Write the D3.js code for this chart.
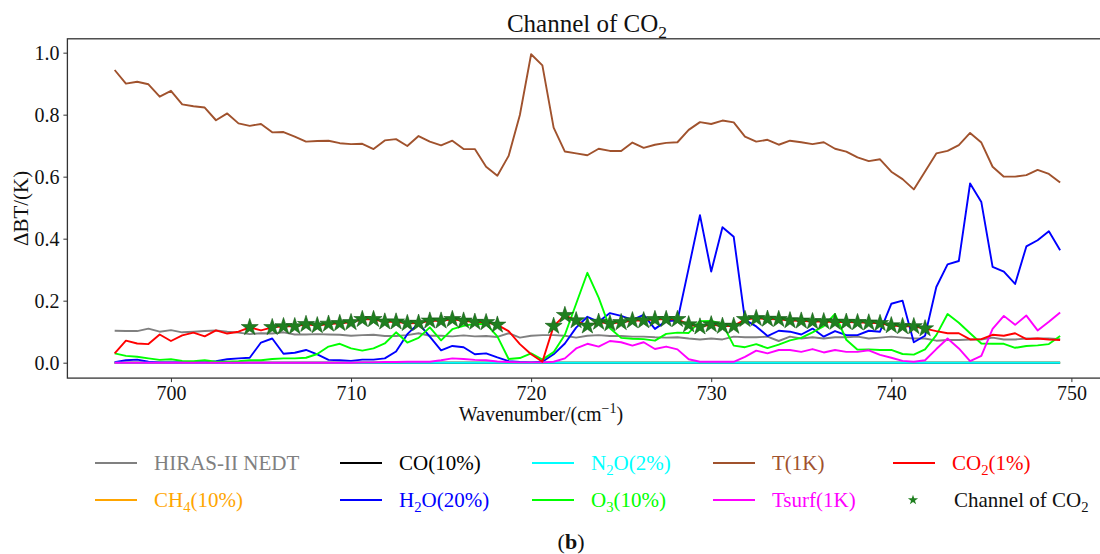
<!DOCTYPE html>
<html>
<head>
<meta charset="utf-8">
<script src="https://cdn.jsdelivr.net/npm/d3@7"></script>
<style>
  body { margin: 0; background: #fff; }
  svg text { font-family: "Liberation Serif", "Times New Roman", serif; }
</style>
</head>
<body>
<svg id="chart" width="1100" height="554"></svg>
<script>
// HIRAS-II channel grid: 696.875 .. 749.375 cm-1, 0.625 cm-1 spacing
const CH_START = 696.875
const CH_STEP = 0.625
const N_CH = 85
const wavenumber = d3.range(N_CH).map((i) => CH_START + CH_STEP * i)

const nedt = [0.103,0.102,0.102,0.110,0.100,0.105,0.098,0.100,0.102,0.104,0.100,0.097,0.092,0.095,0.094,0.098,0.091,0.091,0.092,0.091,0.090,0.087,0.089,0.090,0.086,0.086,0.089,0.095,0.087,0.087,0.085,0.088,0.085,0.086,0.083,0.095,0.081,0.087,0.089,0.089,0.087,0.081,0.087,0.089,0.086,0.086,0.084,0.084,0.082,0.081,0.082,0.078,0.075,0.078,0.075,0.084,0.082,0.082,0.084,0.070,0.084,0.078,0.082,0.078,0.082,0.082,0.084,0.078,0.081,0.084,0.081,0.078,0.078,0.071,0.073,0.073,0.075,0.075,0.081,0.075,0.075,0.078,0.078,0.078,0.076]

const ch4 = [0,0,0,0,0,0,0,0,0,0,0,0,0,0,0,0,0,0,0,0,0,0,0,0,0,0,0,0,0,0,0,0,0,0,0,0,0,0,0,0,0,0,0,0,0,0,0,0,0,0,0,0,0,0,0,0,0,0,0,0,0,0,0,0,0,0,0,0,0,0,0,0,0,0,0,0,0,0,0,0,0,0,0,0,0]

const co = [0,0,0,0,0,0,0,0,0,0,0,0,0,0,0,0,0,0,0,0,0,0,0,0,0,0,0,0,0,0,0,0,0,0,0,0,0,0,0,0,0,0,0,0,0,0,0,0,0,0,0,0,0,0,0,0,0,0,0,0,0,0,0,0,0,0,0,0,0,0,0,0,0,0,0,0,0,0,0,0,0,0,0,0,0]

const h2o = [0.002,0.008,0.010,0.003,0.001,0.001,0.001,0.002,0.001,0.005,0.011,0.014,0.016,0.065,0.078,0.029,0.032,0.041,0.027,0.009,0.008,0.006,0.010,0.010,0.014,0.036,0.092,0.127,0.084,0.040,0.054,0.050,0.027,0.030,0.017,0.005,0.002,0.001,0.003,0.027,0.062,0.113,0.148,0.132,0.160,0.151,0.138,0.154,0.109,0.134,0.136,0.305,0.476,0.294,0.437,0.406,0.138,0.117,0.086,0.103,0.100,0.091,0.110,0.084,0.102,0.089,0.089,0.103,0.100,0.190,0.200,0.066,0.087,0.244,0.317,0.328,0.578,0.518,0.309,0.294,0.254,0.375,0.395,0.424,0.363]

const n2o = [0,0,0,0,0,0,0,0,0,0,0,0,0,0,0,0,0,0,0,0,0,0,0,0,0,0,0,0,0,0,0,0,0,0,0,0,0,0,0,0,0,0,0,0,0,0,0,0,0,0,0,0,0,0,0,0,0,0,0,0,0,0,0,0,0,0,0,0,0,0,0,0,0,0,0,0,0,0,0,0,0,0,0,0,0]

const o3 = [0.030,0.022,0.019,0.014,0.009,0.011,0.006,0.005,0.008,0.003,0.003,0.005,0.008,0.008,0.012,0.014,0.014,0.016,0.028,0.052,0.061,0.046,0.039,0.046,0.062,0.098,0.065,0.080,0.114,0.072,0.108,0.119,0.125,0.125,0.085,0.012,0.015,0.030,0.010,0.034,0.090,0.190,0.290,0.210,0.111,0.080,0.077,0.076,0.071,0.093,0.097,0.096,0.134,0.135,0.125,0.055,0.050,0.060,0.047,0.058,0.072,0.080,0.098,0.118,0.157,0.074,0.042,0.043,0.041,0.041,0.028,0.026,0.043,0.089,0.157,0.129,0.095,0.062,0.061,0.061,0.048,0.054,0.056,0.060,0.086]

const temp = [0.944,0.900,0.906,0.898,0.858,0.877,0.833,0.827,0.823,0.782,0.804,0.772,0.764,0.770,0.743,0.744,0.729,0.713,0.715,0.716,0.708,0.705,0.706,0.689,0.717,0.721,0.699,0.731,0.713,0.701,0.716,0.689,0.689,0.632,0.603,0.667,0.799,0.995,0.959,0.758,0.681,0.675,0.669,0.690,0.683,0.683,0.710,0.693,0.703,0.709,0.711,0.751,0.776,0.770,0.781,0.775,0.729,0.713,0.719,0.703,0.716,0.711,0.705,0.711,0.690,0.681,0.662,0.650,0.656,0.616,0.592,0.559,0.617,0.675,0.683,0.702,0.741,0.710,0.632,0.600,0.600,0.605,0.622,0.609,0.581]

const tsurf = [0,0,0,0,0,0,0,0,0,0,0,0,0,0,0,0,0,0,0,0,0,0,0.001,0.001,0.002,0.002,0.003,0.003,0.003,0.008,0.014,0.012,0.009,0.008,0.004,0.002,0.001,0.001,0.001,0.003,0.014,0.046,0.061,0.052,0.070,0.066,0.055,0.066,0.044,0.052,0.043,0.011,0.003,0.003,0.003,0.003,0.019,0.039,0.030,0.041,0.041,0.035,0.044,0.033,0.041,0.035,0.035,0.040,0.025,0.016,0.006,0.003,0.008,0.044,0.078,0.046,0.005,0.022,0.109,0.151,0.122,0.152,0.104,0.132,0.162]

const co2 = [0.030,0.071,0.062,0.060,0.091,0.070,0.088,0.097,0.085,0.104,0.094,0.100,0.114,0.104,0.114,0.117,0.117,0.124,0.120,0.125,0.127,0.130,0.140,0.140,0.132,0.132,0.127,0.128,0.135,0.135,0.140,0.135,0.131,0.130,0.122,0.102,0.060,0.027,0.003,0.118,0.153,0.136,0.119,0.131,0.126,0.130,0.136,0.136,0.140,0.140,0.140,0.123,0.116,0.123,0.118,0.118,0.140,0.143,0.141,0.140,0.136,0.135,0.133,0.133,0.131,0.131,0.130,0.129,0.127,0.120,0.117,0.117,0.110,0.102,0.095,0.095,0.075,0.076,0.090,0.087,0.095,0.076,0.078,0.075,0.073]

// channel indices selected as CO2 channels (stars)
const starChannels = [12,14,15,16,17,18,19,20,21,22,23,24,25,26,27,28,29,30,31,32,33,34,
  39,40,41,42,43,44,45,46,47,48,49,50,51,52,53,54,55,56,57,58,59,60,61,62,63,64,65,66,67,68,69,70,71,72]

const xTicks = [700, 710, 720, 730, 740, 750]
const yTicks = [0.0, 0.2, 0.4, 0.6, 0.8, 1.0]

// plotting order (as in the original script)
const SERIES = [
  { key: "nedt", values: nedt, color: "#808080", label: [["HIRAS-II NEDT"]] },
  { key: "ch4", values: ch4, color: "#ffa500", label: [["CH"], ["4", "sub"], ["(10%)"]] },
  { key: "co", values: co, color: "#000000", label: [["CO(10%)"]] },
  { key: "h2o", values: h2o, color: "#0000ff", label: [["H"], ["2", "sub"], ["O(20%)"]] },
  { key: "n2o", values: n2o, color: "#00ffff", label: [["N"], ["2", "sub"], ["O(2%)"]] },
  { key: "o3", values: o3, color: "#00ff00", label: [["O"], ["3", "sub"], ["(10%)"]] },
  { key: "temp", values: temp, color: "#a0522d", label: [["T(1K)"]] },
  { key: "tsurf", values: tsurf, color: "#ff00ff", label: [["Tsurf(1K)"]] },
  { key: "co2", values: co2, color: "#ff0000", label: [["CO"], ["2", "sub"], ["(1%)"]] },
]

const legendRows = [
  ["nedt", "co", "n2o", "temp", "co2"],
  ["ch4", "h2o", "o3", "tsurf", "star"],
]

const STAR_COLOR = "#1f7f1f"
const FONT = "Liberation Serif, Times New Roman, serif"
const svg = d3.select("#chart")

const margin = { left: 67.4, top: 38.8 }
const plotW = 1040
const plotH = 339.3

const x = d3.scaleLinear().domain([694.25, 752.0]).range([margin.left, margin.left + plotW])
const y = d3.scaleLinear().domain([-0.0497, 1.0447]).range([margin.top + plotH, margin.top])

// rich text helper: parts = [[text, "sub"|"sup"|undefined], ...]
function richText(sel, parts, size) {
  let shift = 0
  parts.forEach(([t, kind]) => {
    const ts = sel.append("tspan").text(t)
    if (kind === "sub") {
      ts.attr("dy", size * 0.25 - shift).attr("font-size", size * 0.7)
      shift = size * 0.25
    } else if (kind === "sup") {
      ts.attr("dy", -size * 0.4 - shift).attr("font-size", size * 0.7)
      shift = -size * 0.4
    } else {
      ts.attr("dy", -shift)
      shift = 0
    }
  })
}

// clip for data
svg.append("clipPath").attr("id", "clip")
  .append("rect")
  .attr("x", margin.left).attr("y", margin.top)
  .attr("width", plotW).attr("height", plotH)

// axes
const xAxis = svg.append("g")
  .attr("transform", `translate(0,${margin.top + plotH})`)
  .call(d3.axisBottom(x).tickValues(xTicks).tickFormat(d3.format("d")).tickSize(4).tickPadding(4))
const yAxis = svg.append("g")
  .attr("transform", `translate(${margin.left},0)`)
  .call(d3.axisLeft(y).tickValues(yTicks).tickFormat(d3.format(".1f")).tickSize(4).tickPadding(4))

for (const ax of [xAxis, yAxis]) {
  ax.attr("font-family", FONT)
  ax.select(".domain").remove()
  ax.selectAll(".tick line").attr("stroke", "#333").attr("stroke-width", 1)
  ax.selectAll(".tick text")
    .attr("font-family", FONT)
    .attr("font-size", 20)
    .attr("fill", "#111")
}

// frame
svg.append("rect")
  .attr("x", margin.left).attr("y", margin.top)
  .attr("width", plotW).attr("height", plotH)
  .attr("fill", "none").attr("stroke", "#333").attr("stroke-width", 1.3)

// lines
const line = d3.line().x((d, i) => x(wavenumber[i])).y((d) => y(d))
const plotG = svg.append("g").attr("clip-path", "url(#clip)")
plotG.selectAll("path.series")
  .data(SERIES)
  .join("path")
  .attr("class", "series")
  .attr("d", (s) => line(s.values))
  .attr("fill", "none")
  .attr("stroke", (s) => s.color)
  .attr("stroke-width", 1.9)
  .attr("stroke-linejoin", "round")

// star markers on the CO2 curve
const star = d3.symbol().type(d3.symbolStar).size(90)
plotG.selectAll("path.star")
  .data(starChannels)
  .join("path")
  .attr("class", "star")
  .attr("d", star)
  .attr("transform", (i) => `translate(${x(wavenumber[i])},${y(co2[i])})`)
  .attr("fill", STAR_COLOR)
  .attr("stroke", "#145a14")
  .attr("stroke-width", 0.6)

// title
const title = svg.append("text")
  .attr("x", 587).attr("y", 32)
  .attr("text-anchor", "middle")
  .attr("font-size", 25)
  .attr("fill", "#111")
richText(title, [["Channel of CO"], ["2", "sub"]], 25)

// axis labels
const xl = svg.append("text")
  .attr("x", 541).attr("y", 421)
  .attr("text-anchor", "middle")
  .attr("font-size", 20)
  .attr("fill", "#111")
richText(xl, [["Wavenumber/(cm"], ["\u22121", "sup"], [")"]], 20)

svg.append("text")
  .attr("transform", `translate(28,${margin.top + plotH / 2}) rotate(-90)`)
  .attr("text-anchor", "middle")
  .attr("font-size", 21)
  .attr("fill", "#111")
  .text("\u0394BT/(K)")

// legend
const colX = [95, 340, 532, 713, 893]
const rowY = [463, 500]
const LEG_FS = 21
const byKey = Object.fromEntries(SERIES.map((s) => [s.key, s]))
legendRows.forEach((row, r) => {
  row.forEach((key, c) => {
    const g = svg.append("g").attr("transform", `translate(${colX[c]},${rowY[r]})`)
    if (key === "star") {
      g.append("path")
        .attr("d", d3.symbol().type(d3.symbolStar).size(32))
        .attr("transform", "translate(20,0)")
        .attr("fill", STAR_COLOR)
      const t = g.append("text").attr("x", 61).attr("y", 7).attr("font-size", LEG_FS).attr("fill", "#111")
      richText(t, [["Channel of CO"], ["2", "sub"]], LEG_FS)
      return
    }
    const s = byKey[key]
    g.append("line").attr("x1", 0).attr("x2", 42).attr("y1", 0).attr("y2", 0)
      .attr("stroke", s.color).attr("stroke-width", 1.9)
    const t = g.append("text").attr("x", 59).attr("y", 7).attr("font-size", LEG_FS).attr("fill", s.color)
    richText(t, s.label, LEG_FS)
  })
})

svg.append("text")
  .attr("x", 571).attr("y", 549)
  .attr("text-anchor", "middle")
  .attr("font-size", 22)
  .attr("fill", "#111")
  .html('(<tspan font-weight="bold">b</tspan>)')
</script>
</body>
</html>
